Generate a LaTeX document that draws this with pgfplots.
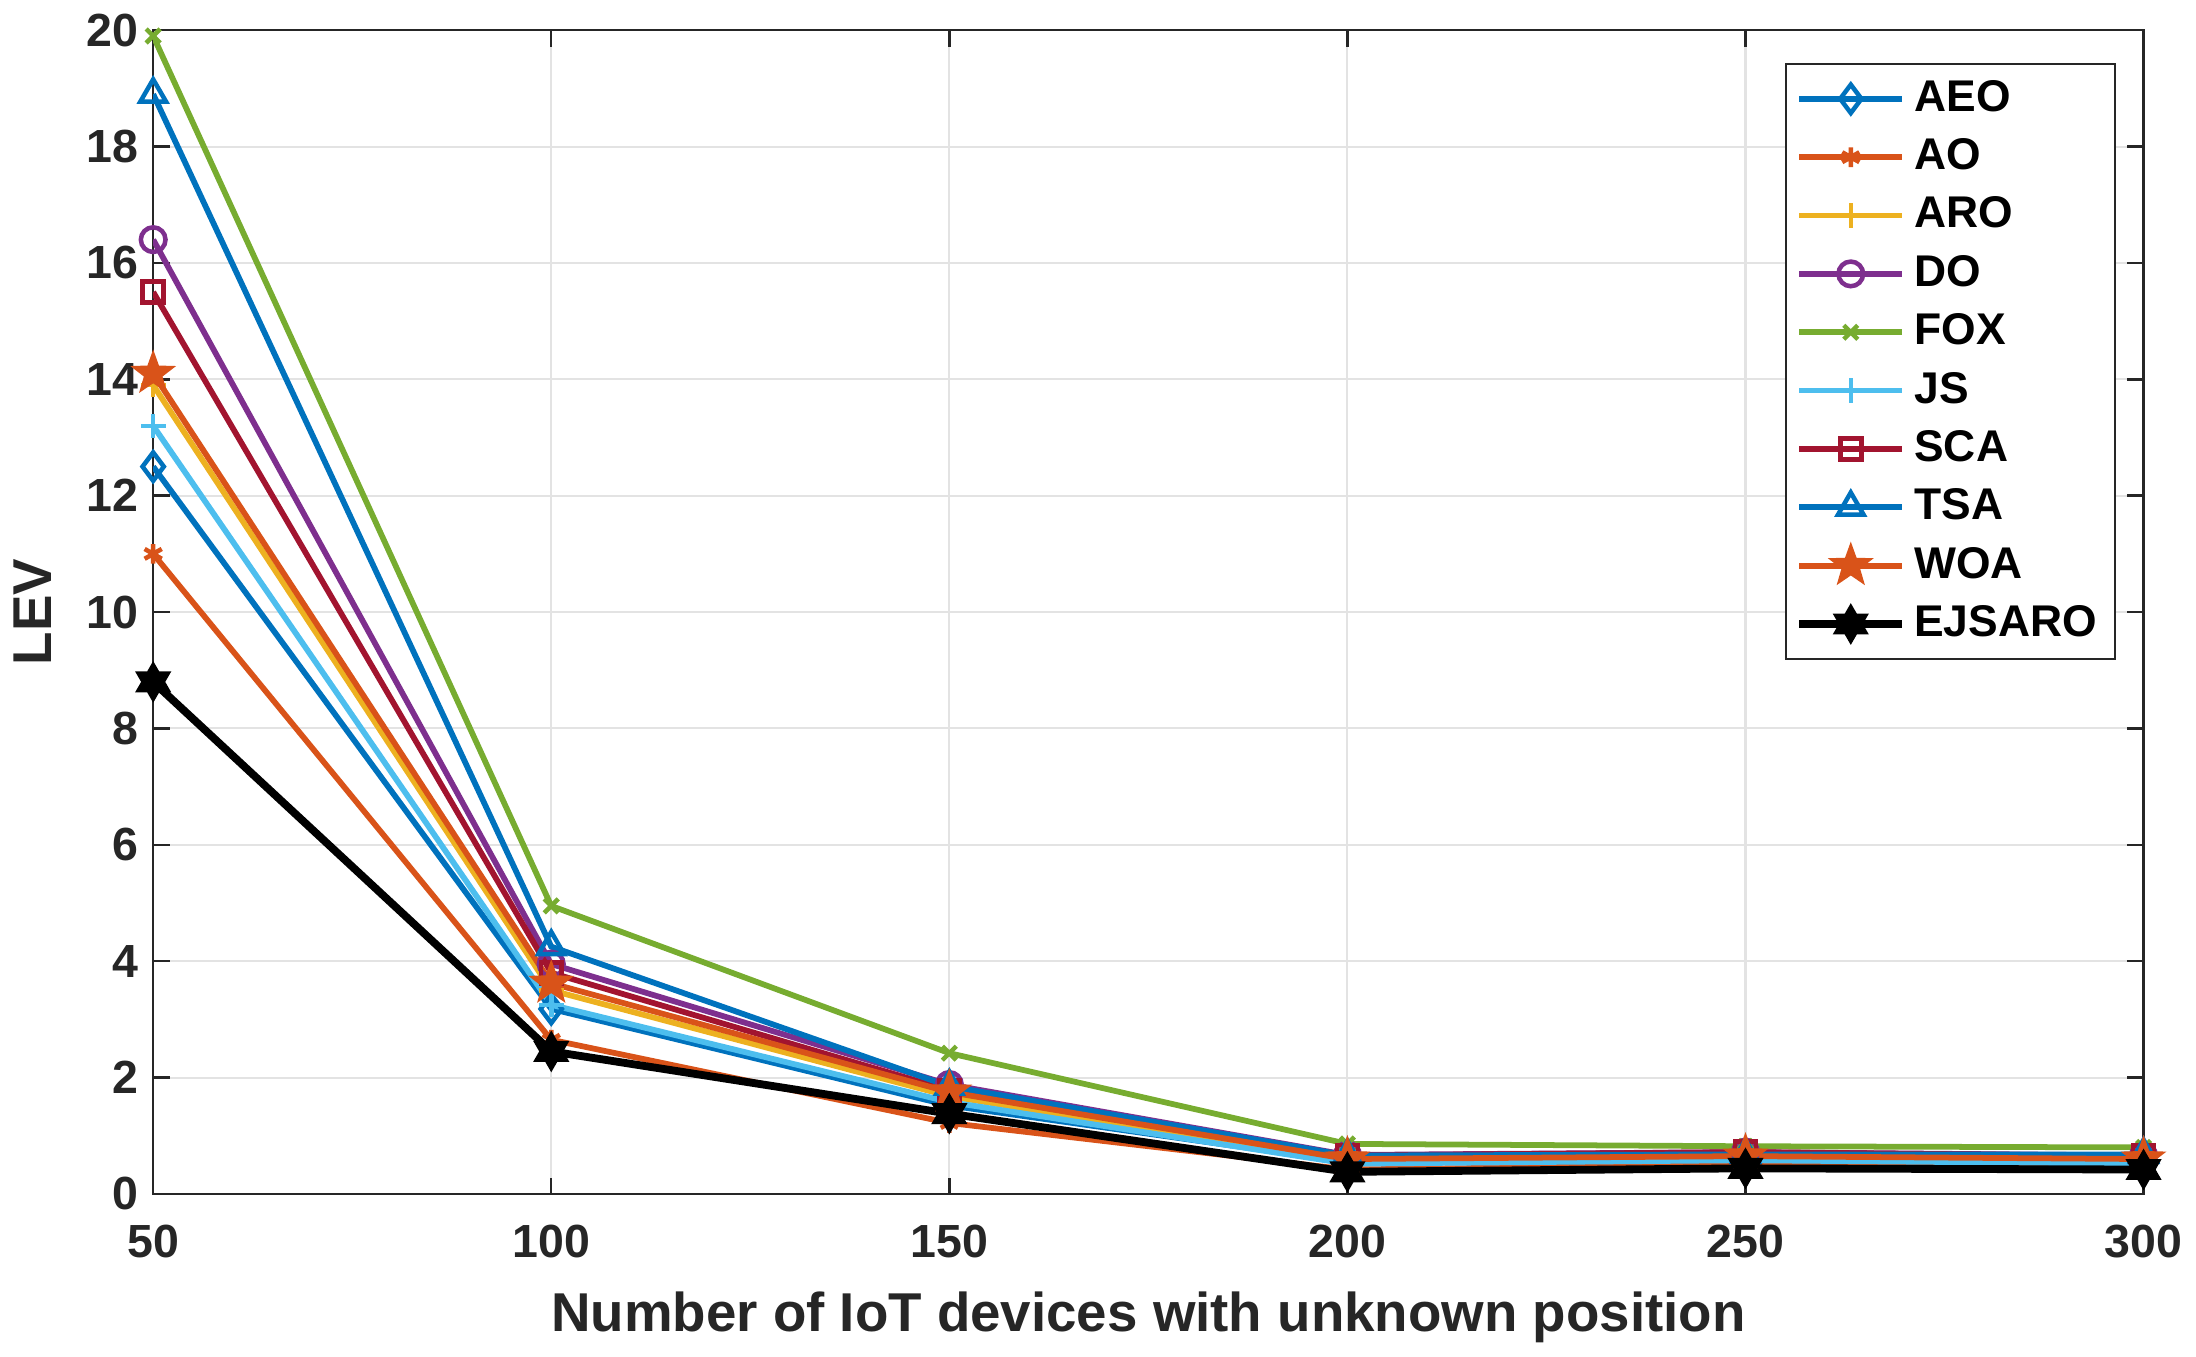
\documentclass[border=0pt]{standalone}
\usepackage{pgfplots}
\pgfplotsset{compat=1.18}
\usepackage{fontspec}
\setmainfont{Liberation Sans}
\usetikzlibrary{plotmarks}

% MATLAB default line colours
\definecolor{mblue}{rgb}{0,0.447,0.741}
\definecolor{morange}{rgb}{0.850,0.325,0.098}
\definecolor{myellow}{rgb}{0.929,0.694,0.125}
\definecolor{mpurple}{rgb}{0.494,0.184,0.556}
\definecolor{mgreen}{rgb}{0.466,0.674,0.188}
\definecolor{mcyan}{rgb}{0.301,0.745,0.933}
\definecolor{mred}{rgb}{0.635,0.078,0.184}
\definecolor{axgray}{rgb}{0.15,0.15,0.15}

% five- and six-pointed stars like MATLAB's pentagram / hexagram
\pgfdeclareplotmark{pentagram}{%
  \pgfpathmoveto{\pgfpointpolar{90}{1.35\pgfplotmarksize}}%
  \pgfpathlineto{\pgfpointpolar{126}{0.55\pgfplotmarksize}}%
  \pgfpathlineto{\pgfpointpolar{162}{1.35\pgfplotmarksize}}%
  \pgfpathlineto{\pgfpointpolar{198}{0.55\pgfplotmarksize}}%
  \pgfpathlineto{\pgfpointpolar{234}{1.35\pgfplotmarksize}}%
  \pgfpathlineto{\pgfpointpolar{270}{0.55\pgfplotmarksize}}%
  \pgfpathlineto{\pgfpointpolar{306}{1.35\pgfplotmarksize}}%
  \pgfpathlineto{\pgfpointpolar{342}{0.55\pgfplotmarksize}}%
  \pgfpathlineto{\pgfpointpolar{18}{1.35\pgfplotmarksize}}%
  \pgfpathlineto{\pgfpointpolar{54}{0.55\pgfplotmarksize}}%
  \pgfpathclose\pgfusepathqfillstroke}
\pgfdeclareplotmark{hexagram}{%
  \pgfpathmoveto{\pgfpointpolar{90}{1.3\pgfplotmarksize}}%
  \pgfpathlineto{\pgfpointpolar{120}{0.75\pgfplotmarksize}}%
  \pgfpathlineto{\pgfpointpolar{150}{1.3\pgfplotmarksize}}%
  \pgfpathlineto{\pgfpointpolar{180}{0.75\pgfplotmarksize}}%
  \pgfpathlineto{\pgfpointpolar{210}{1.3\pgfplotmarksize}}%
  \pgfpathlineto{\pgfpointpolar{240}{0.75\pgfplotmarksize}}%
  \pgfpathlineto{\pgfpointpolar{270}{1.3\pgfplotmarksize}}%
  \pgfpathlineto{\pgfpointpolar{300}{0.75\pgfplotmarksize}}%
  \pgfpathlineto{\pgfpointpolar{330}{1.3\pgfplotmarksize}}%
  \pgfpathlineto{\pgfpointpolar{0}{0.75\pgfplotmarksize}}%
  \pgfpathlineto{\pgfpointpolar{30}{1.3\pgfplotmarksize}}%
  \pgfpathlineto{\pgfpointpolar{60}{0.75\pgfplotmarksize}}%
  \pgfpathclose\pgfusepathqfillstroke}

\begin{document}
\begin{tikzpicture}
  \begin{axis}[
    scale only axis,
    width=484pt, height=283pt,
    xmin=50, xmax=300,
    ymin=0, ymax=20,
    xtick={50,100,...,300},
    ytick={0,2,...,20},
    grid=major,
    major grid style={gray!22, line width=0.5pt},
    axis line style={axgray, line width=0.6pt},
    tick style={axgray, line width=0.6pt},
    tick align=inside,
    major tick length=4pt,
    /pgf/number format/assume math mode=true,
    ticklabel style={font=\fontsize{11.3}{13}\selectfont\bfseries, text=axgray},
    xticklabel style={yshift=-4pt},
    xlabel={\textbf{Number of IoT devices with unknown position}},
    ylabel={\textbf{LEV}},
    label style={font=\fontsize{13.3}{15}\selectfont, text=axgray},
    xlabel style={yshift=-1.5pt},
    ylabel style={yshift=1.8pt},
    every axis plot/.append style={line width=1.4pt, mark size=3pt},
    legend style={at={(0.986,0.972)}, anchor=north east,
      draw=axgray, line width=0.5pt,
      font=\fontsize{10.8}{12}\selectfont\bfseries,
      row sep=1.15pt, inner xsep=2.3pt, inner ysep=2pt},
    legend cell align=left,
    legend image code/.code={%
      \draw[mark repeat=2,mark phase=2] plot coordinates {(0pt,0pt) (12.5pt,0pt) (25pt,0pt)};},
  ]
    \addplot[color=mblue, mark=diamond, mark options={solid, line width=1.1pt, scale=1.15}] coordinates {
      (50,12.5) (100,3.18) (150,1.52) (200,0.55) (250,0.60) (300,0.55)};
    \addlegendentry{AEO}
    \addplot[color=morange, mark=asterisk, mark options={solid, line width=1.1pt, scale=0.8}] coordinates {
      (50,11.0) (100,2.65) (150,1.22) (200,0.42) (250,0.50) (300,0.44)};
    \addlegendentry{AO}
    \addplot[color=myellow, mark=+, mark options={solid, line width=1.1pt}] coordinates {
      (50,13.9) (100,3.50) (150,1.68) (200,0.57) (250,0.62) (300,0.56)};
    \addlegendentry{ARO}
    \addplot[color=mpurple, mark=o, mark options={solid, line width=1.1pt}] coordinates {
      (50,16.4) (100,3.95) (150,1.88) (200,0.67) (250,0.72) (300,0.66)};
    \addlegendentry{DO}
    \addplot[color=mgreen, mark=x, mark options={solid, line width=1.1pt, scale=0.8}] coordinates {
      (50,19.9) (100,4.95) (150,2.42) (200,0.86) (250,0.82) (300,0.80)};
    \addlegendentry{FOX}
    \addplot[color=mcyan, mark=+, mark options={solid, line width=1.1pt}] coordinates {
      (50,13.2) (100,3.25) (150,1.58) (200,0.52) (250,0.58) (300,0.52)};
    \addlegendentry{JS}
    \addplot[color=mred, mark=square, mark options={solid, line width=1.1pt, scale=0.85}] coordinates {
      (50,15.5) (100,3.80) (150,1.78) (200,0.66) (250,0.72) (300,0.65)};
    \addlegendentry{SCA}
    \addplot[color=mblue, mark=triangle, mark options={solid, line width=1.1pt, scale=1.2}] coordinates {
      (50,18.9) (100,4.25) (150,1.85) (200,0.66) (250,0.68) (300,0.68)};
    \addlegendentry{TSA}
    \addplot[color=morange, mark=pentagram, mark options={solid, fill=morange, line width=0.4pt, scale=1.3}] coordinates {
      (50,14.1) (100,3.62) (150,1.75) (200,0.60) (250,0.65) (300,0.60)};
    \addlegendentry{WOA}
    \addplot[color=black, line width=1.9pt, mark=hexagram, mark options={solid, fill=black, line width=0.4pt, scale=1.2}] coordinates {
      (50,8.8) (100,2.45) (150,1.38) (200,0.38) (250,0.44) (300,0.42)};
    \addlegendentry{EJSARO}
  \end{axis}
\end{tikzpicture}
\end{document}
